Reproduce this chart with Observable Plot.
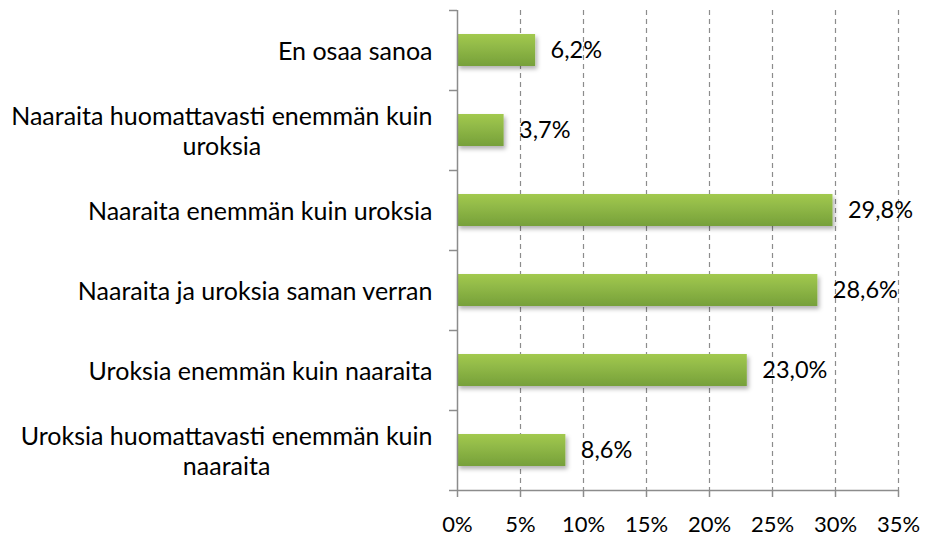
<!DOCTYPE html>
<html>
<head>
<meta charset="utf-8">
<script src="https://cdn.jsdelivr.net/npm/d3@7"></script>
<script src="https://cdn.jsdelivr.net/npm/@observablehq/plot@0.6"></script>
<style>
  html, body { margin: 0; padding: 0; background: #fff; }
  #chart svg { font-family: Lato, "Open Sans", sans-serif; }
</style>
</head>
<body>
<div id="chart"></div>
<script>
// Categories, top to bottom
const categories = [
  "En osaa sanoa",
  "Naaraita huomattavasti enemmän kuin\nuroksia",
  "Naaraita enemmän kuin uroksia",
  "Naaraita ja uroksia saman verran",
  "Uroksia enemmän kuin naaraita",
  "Uroksia huomattavasti enemmän kuin\nnaaraita"
];
// Percent values
const values = [6.2, 3.7, 29.8, 28.6, 23.0, 8.6];
// X tick values (percent)
const xTicks = [0, 5, 10, 15, 20, 25, 30, 35];

const data = categories.map((c, i) => ({cat: c, value: values[i], idx: i}));
const fmt = v => d3.format(".1f")(v).replace(".", ",") + "%";
const gray = "#8c8c8c";

const chart = Plot.plot({
  width: 925,
  height: 537,
  marginLeft: 457,
  marginRight: 27,
  marginTop: 10,
  marginBottom: 47,
  style: {fontSize: "22px", color: "#000", background: "#fff"},
  x: {domain: [0, 35]},
  y: {domain: [6, 0]},
  marks: [
    Plot.gridX(xTicks.filter(t => t > 0), {stroke: gray, strokeOpacity: 1, strokeDasharray: "5,4", strokeWidth: 1.2}),
    Plot.rect(data, {
      x1: 0, x2: "value",
      y1: d => d.idx, y2: d => d.idx + 1,
      insetTop: 24, insetBottom: 24,
      fill: "url(#barGrad)"
    }),
    Plot.ruleX([0], {stroke: gray, strokeWidth: 1.5}),
    Plot.axisY({ticks: d3.range(7), tickFormat: () => "", tickSize: 8, stroke: gray, strokeWidth: 1.5, label: null}),
    Plot.axisX({ticks: xTicks, tickFormat: d => d + "%", tickSize: 7, tickPadding: 19, stroke: gray, strokeWidth: 1.5, label: null, fontSize: 22}),
    Plot.ruleY([6], {stroke: gray, strokeWidth: 1.5}),
    Plot.text(data, {
      x: "value", y: d => d.idx + 0.5, text: d => fmt(d.value),
      dx: 15, textAnchor: "start", fontSize: 23.5, fill: "#000"
    }),
    Plot.text(data, {
      x: 0, y: d => d.idx + 0.5, text: "cat",
      dx: -25, textAnchor: "end", lineHeight: 1.2, fontSize: 25, fill: "#000"
    })
  ]
});

// gradient + shadow defs
const svg = d3.select(chart);
const defs = svg.insert("defs", ":first-child");
const g = defs.append("linearGradient").attr("id", "barGrad")
  .attr("x1", 0).attr("y1", 0).attr("x2", 0).attr("y2", 1);
g.append("stop").attr("offset", "0%").attr("stop-color", "#a2c94f");
g.append("stop").attr("offset", "100%").attr("stop-color", "#76a03a");
const f = defs.append("filter").attr("id", "barShadow")
  .attr("x", "-10%").attr("y", "-30%").attr("width", "130%").attr("height", "190%");
f.append("feDropShadow").attr("dx", 2).attr("dy", 3).attr("stdDeviation", 2)
  .attr("flood-color", "#000").attr("flood-opacity", 0.3);

svg.selectAll("rect").filter(function() { return this.getAttribute("fill") === "url(#barGrad)" || (this.parentNode && this.parentNode.getAttribute("fill") === "url(#barGrad)"); })
  .attr("filter", "url(#barShadow)");

document.getElementById("chart").appendChild(chart);

// center multi-line category labels as a block, right edge kept in place
svg.selectAll("text").each(function() {
  const t = d3.select(this);
  if (t.selectAll("tspan").size() > 1) {
    const bb = this.getBBox();
    t.attr("text-anchor", "middle");
    const tr = t.attr("transform") || "";
    t.attr("transform", tr + ` translate(${bb.x / 2},0)`);
  }
});
</script>
</body>
</html>
